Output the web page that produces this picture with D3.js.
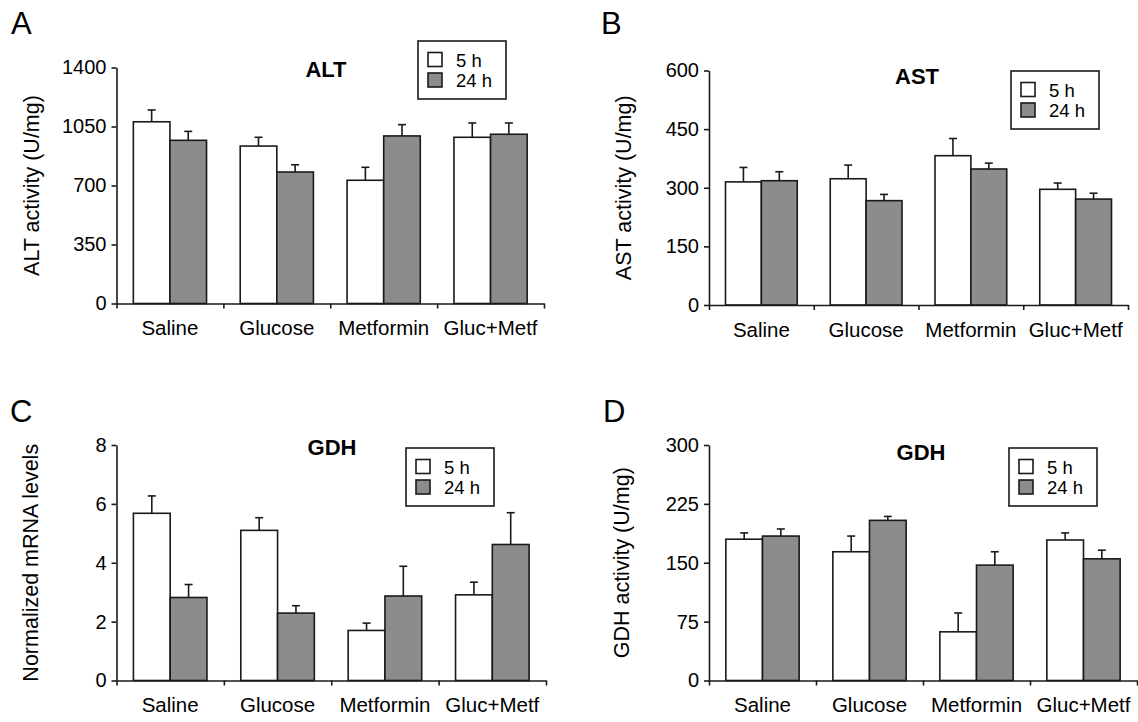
<!DOCTYPE html>
<html>
<head>
<meta charset="utf-8">
<script src="https://cdn.jsdelivr.net/npm/d3@7"></script>
<style>
  body { margin: 0; background: #fff; }
  svg { display: block; font-family: "Liberation Sans", Arial, sans-serif; }
</style>
</head>
<body>
<div id="chart"></div>
<script>
// categories and series
const categories = ["Saline", "Glucose", "Metformin", "Gluc+Metf"];
const seriesNames = ["5 h", "24 h"];
const seriesColors = ["#ffffff", "#8c8c8c"];

// A - ALT activity (U/mg)
const alt5 = [1078, 934, 731, 986];
const alt5Err = [70, 52, 77, 85];
const alt24 = [968, 780, 994, 1004];
const alt24Err = [53, 43, 67, 67];
const altTicks = [0, 350, 700, 1050, 1400];

// B - AST activity (U/mg)
const ast5 = [315, 323, 382, 296];
const ast5Err = [37, 35, 44, 16];
const ast24 = [318, 267, 348, 271];
const ast24Err = [23, 16, 15, 15];
const astTicks = [0, 150, 300, 450, 600];

// C - GDH normalized mRNA levels
const mrna5 = [5.68, 5.10, 1.70, 2.91];
const mrna5Err = [0.59, 0.43, 0.25, 0.43];
const mrna24 = [2.82, 2.29, 2.87, 4.62];
const mrna24Err = [0.44, 0.25, 1.01, 1.08];
const mrnaTicks = [0, 2, 4, 6, 8];

// D - GDH activity (U/mg)
const gdh5 = [180, 164, 62, 179];
const gdh5Err = [8, 20, 24, 9];
const gdh24 = [184, 204, 147, 155];
const gdh24Err = [9, 5, 17, 11];
const gdhTicks = [0, 75, 150, 225, 300];

const svg = d3.select("#chart")
    .append("svg")
    .attr("width", 1138)
    .attr("height", 722);

svg.append("rect").attr("width", 1138).attr("height", 722).attr("fill", "#fff");

const panels = [
    {letter: "A", title: "ALT", yLabel: "ALT activity (U/mg)", means: [alt5, alt24], errs: [alt5Err, alt24Err], ticks: altTicks,
     left: 116.5, right: 544, top: 67.5, bottom: 303.5, letterX: 11, letterY: 34, titleX: 326, titleY: 77,
     yLabX: 39, legX: 418, legY: 41},
    {letter: "B", title: "AST", yLabel: "AST activity (U/mg)", means: [ast5, ast24], errs: [ast5Err, ast24Err], ticks: astTicks,
     left: 709, right: 1128, top: 70.5, bottom: 305, letterX: 601, letterY: 34, titleX: 917, titleY: 84,
     yLabX: 631, legX: 1011, legY: 71},
    {letter: "C", title: "GDH", yLabel: "Normalized mRNA levels", means: [mrna5, mrna24], errs: [mrna5Err, mrna24Err], ticks: mrnaTicks,
     left: 116.5, right: 546, top: 445, bottom: 680.5, letterX: 10, letterY: 422, titleX: 332, titleY: 455,
     yLabX: 38, legX: 406, legY: 448},
    {letter: "D", title: "GDH", yLabel: "GDH activity (U/mg)", means: [gdh5, gdh24], errs: [gdh5Err, gdh24Err], ticks: gdhTicks,
     left: 709, right: 1137, top: 445, bottom: 680.5, letterX: 603, letterY: 422, titleX: 921, titleY: 460,
     yLabX: 629, legX: 1009, legY: 448}
];

function drawPanel(p) {
    const g = svg.append("g");

    const x = d3.scaleBand().domain(categories).range([p.left, p.right]);
    const xEdge = d3.scaleLinear().domain([0, categories.length]).range([p.left, p.right]);
    const xSub = d3.scaleBand().domain(seriesNames).range([0, x.bandwidth()])
        .paddingInner(0).paddingOuter(0.46);
    const y = d3.scaleLinear().domain([0, d3.max(p.ticks)]).range([p.bottom, p.top]);

    const rows = categories.flatMap((c, i) => seriesNames.map((s, j) => ({
        cat: c, series: s, idx: j, mean: p.means[j][i], se: p.errs[j][i]
    })));

    // error bars (upper only)
    const eb = g.append("g").attr("stroke", "#1a1a1a").attr("stroke-width", 1.6);
    eb.selectAll("line.v")
        .data(rows)
        .join("line")
        .attr("class", "v")
        .attr("x1", d => x(d.cat) + xSub(d.series) + xSub.bandwidth() / 2)
        .attr("x2", d => x(d.cat) + xSub(d.series) + xSub.bandwidth() / 2)
        .attr("y1", d => y(d.mean))
        .attr("y2", d => y(d.mean + d.se));
    eb.selectAll("line.cap")
        .data(rows)
        .join("line")
        .attr("class", "cap")
        .attr("x1", d => x(d.cat) + xSub(d.series) + xSub.bandwidth() / 2 - 4)
        .attr("x2", d => x(d.cat) + xSub(d.series) + xSub.bandwidth() / 2 + 4)
        .attr("y1", d => y(d.mean + d.se))
        .attr("y2", d => y(d.mean + d.se));

    // bars
    g.append("g").selectAll("rect")
        .data(rows)
        .join("rect")
        .attr("x", d => x(d.cat) + xSub(d.series))
        .attr("width", xSub.bandwidth())
        .attr("y", d => y(d.mean))
        .attr("height", d => y(0) - y(d.mean))
        .attr("fill", d => seriesColors[d.idx])
        .attr("stroke", "#1a1a1a")
        .attr("stroke-width", 1.6);

    // Y axis
    const yAxis = g.append("g")
        .attr("transform", `translate(${p.left},0)`)
        .call(d3.axisLeft(y).tickValues(p.ticks).tickFormat(d3.format("d"))
            .tickSize(5).tickSizeOuter(0).tickPadding(5));
    yAxis.selectAll("text").style("font-size", "20px").attr("fill", "#000");

    // X axis: ticks at category edges, labels centred
    const xAxis = g.append("g")
        .attr("transform", `translate(0,${p.bottom})`)
        .call(d3.axisBottom(xEdge).tickValues(d3.range(categories.length + 1)).tickFormat("").tickSize(5).tickSizeOuter(0));
    const xLabels = g.append("g")
        .attr("transform", `translate(0,${p.bottom})`)
        .call(d3.axisBottom(x).tickSize(0).tickPadding(17));
    xLabels.select(".domain").remove();
    xLabels.selectAll("text").style("font-size", "20.5px").attr("fill", "#000");

    [yAxis, xAxis].forEach(a => {
        a.select(".domain").attr("stroke", "#1a1a1a").attr("stroke-width", 1.6);
        a.selectAll(".tick line").attr("stroke", "#1a1a1a").attr("stroke-width", 1.6);
    });

    // y axis label
    g.append("text")
        .attr("transform", `translate(${p.yLabX},${(p.top + p.bottom) / 2}) rotate(-90)`)
        .style("text-anchor", "middle")
        .style("font-size", "21.5px")
        .attr("fill", "#000")
        .text(p.yLabel);

    // title
    g.append("text")
        .attr("x", p.titleX)
        .attr("y", p.titleY)
        .style("text-anchor", "middle")
        .style("font-size", "22px")
        .style("font-weight", "bold")
        .attr("fill", "#000")
        .text(p.title);

    // panel letter
    g.append("text")
        .attr("x", p.letterX)
        .attr("y", p.letterY)
        .style("font-size", "31px")
        .attr("fill", "#000")
        .text(p.letter);

    // legend
    const leg = g.append("g").attr("transform", `translate(${p.legX},${p.legY})`);
    leg.append("rect")
        .attr("width", 88).attr("height", 58)
        .attr("fill", "#fff").attr("stroke", "#1a1a1a").attr("stroke-width", 1.6);
    seriesNames.forEach((s, j) => {
        leg.append("rect")
            .attr("x", 10).attr("y", 11.5 + j * 20.5)
            .attr("width", 14).attr("height", 14)
            .attr("fill", seriesColors[j]).attr("stroke", "#1a1a1a").attr("stroke-width", 1.6);
        leg.append("text")
            .attr("x", 38).attr("y", 25.5 + j * 20.5)
            .style("font-size", "18.5px")
            .attr("fill", "#000")
            .text(s);
    });
}

panels.forEach(drawPanel);
</script>
</body>
</html>
